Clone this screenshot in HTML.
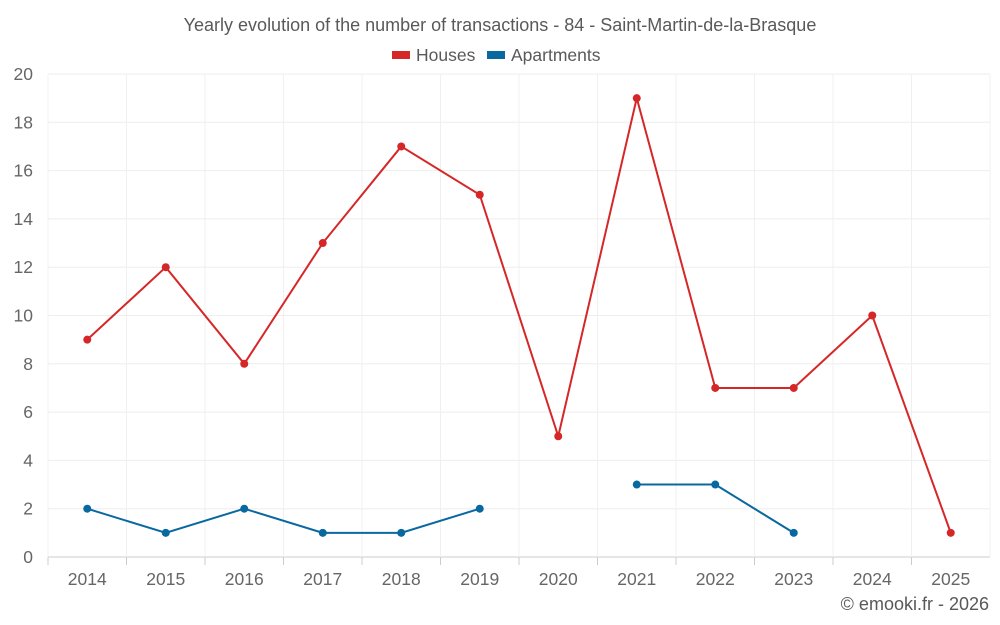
<!DOCTYPE html>
<html><head><meta charset="utf-8"><style>
html,body{margin:0;padding:0;background:#fff;}
svg{display:block;font-family:"Liberation Sans",Arial,sans-serif;}
</style></head><body>
<svg id="chart" width="1000" height="625">
<text x="500" y="31" text-anchor="middle" font-size="18" fill="#595959">Yearly evolution of the number of transactions - 84 - Saint-Martin-de-la-Brasque</text>
<g>
<g><rect x="392" y="51" width="18" height="8" fill="#d62728"/><text x="416" y="61" font-size="17.5" fill="#595959">Houses</text></g>
<g><rect x="487" y="51" width="18" height="8" fill="#0868a0"/><text x="511" y="61" font-size="17.5" fill="#595959">Apartments</text></g>
</g>
<g id="grid"></g>
<g id="axes"></g>
<g id="series"></g>
<text x="989" y="610" text-anchor="end" font-size="18" fill="#595959">© emooki.fr - 2026</text>
</svg>
<script>
const years = ["2014","2015","2016","2017","2018","2019","2020","2021","2022","2023","2024","2025"];
const houses = [9,12,8,13,17,15,5,19,7,7,10,1];
const apartments = [2,1,2,1,1,2,null,3,3,1,null,null];
const yTicks = [0,2,4,6,8,10,12,14,16,18,20];
const L=48,R=990,T=74,B=557,yMax=20;
const bw=(R-L)/years.length;
const xs=i=>L+bw*(i+0.5);
const ys=v=>B-(v/yMax)*(B-T);
const NS="http://www.w3.org/2000/svg";
function mk(tag,attrs,parent){const e=document.createElementNS(NS,tag);for(const k in attrs)e.setAttribute(k,attrs[k]);parent.appendChild(e);return e;}
const grid=document.getElementById('grid'),axes=document.getElementById('axes'),series=document.getElementById('series');
yTicks.forEach(t=>{
  const l=mk('line',{x1:L,x2:R,y1:ys(t),y2:ys(t),stroke:t===0?'#ccc':'#eeeeee','stroke-width':1},grid);
  
  
  const tx=mk('text',{x:L-15,y:ys(t)+6,'text-anchor':'end','font-size':17.5,fill:'#666'},axes);
  tx.textContent=t;
  
  
});
for(let i=0;i<=years.length;i++){
  const l=mk('line',{x1:L+bw*i,x2:L+bw*i,y1:T,y2:B,stroke:'#f0f0f0','stroke-width':1},grid);
  
  
}
years.forEach((y,i)=>{
  const tk=mk('line',{x1:L+bw*i,x2:L+bw*i,y1:B,y2:B+8,stroke:'#ccc'},axes);
  
  
  const tx=mk('text',{x:xs(i),y:585,'text-anchor':'middle','font-size':17.5,fill:'#666'},axes);
  tx.textContent=y;
  
  
});
function draw(vals,color,name){
  let d='',pen=false;
  vals.forEach((v,i)=>{if(v==null){pen=false;return;}d+=(pen?'L':'M')+xs(i)+','+ys(v);pen=true;});
  const p=mk('path',{d:d,fill:'none',stroke:color,'stroke-width':2},series);
  
  
  vals.forEach((v,i)=>{if(v==null)return;
    const c=mk('circle',{cx:xs(i),cy:ys(v),r:4,fill:color},series);
    
    
  });
}
draw(houses,'#d62728','houses');
draw(apartments,'#0868a0','apartments');
</script>
</body></html>
